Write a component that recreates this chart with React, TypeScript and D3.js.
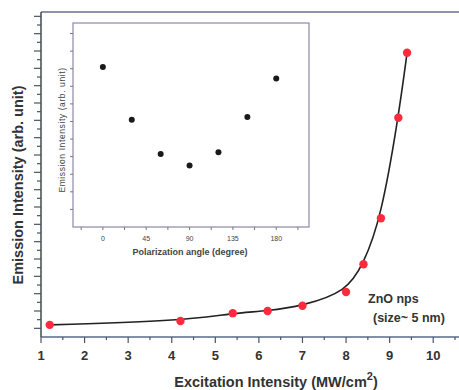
import { useRef, useEffect } from 'react';
import * as d3 from 'd3';

// main plot: excitation intensity vs emission intensity
const excitation = [1.2, 4.2, 5.4, 6.2, 7.0, 8.0, 8.4, 8.8, 9.2, 9.4];
const emission = [1.4, 1.85, 2.75, 3.0, 3.6, 5.2, 8.4, 13.7, 25.3, 32.8];
const xTicks = [1, 2, 3, 4, 5, 6, 7, 8, 9, 10];

// inset: polarization angle vs emission intensity
const angles = [0, 30, 60, 90, 120, 150, 180];
const insetEmission = [9.1, 6.1, 4.15, 3.5, 4.25, 6.25, 8.45];
const angleTicks = [0, 45, 90, 135, 180];

export default function App() {
  const ref = useRef<SVGSVGElement>(null);

  useEffect(() => {
    const svg = d3.select(ref.current);
    svg.selectAll('*').remove();

    const W = 459;
    const font = '"Liberation Sans", Arial, sans-serif';
    const axc = '#4a5566';
    const tc = '#333';

    const x = d3.scaleLinear().domain([1, 10.5]).range([41, 455]);
    const y = d3.scaleLinear().domain([0, 37.5]).range([337, 12]);

    const g = svg.append('g');

    // frame: top + bottom lines run to the edge, left axis line
    g.append('line').attr('x1', 41).attr('x2', W).attr('y1', 12).attr('y2', 12)
      .attr('stroke', '#6a6f8a').attr('stroke-width', 1.3);
    g.append('line').attr('x1', 41).attr('x2', W).attr('y1', 337).attr('y2', 337)
      .attr('stroke', '#5a6a86').attr('stroke-width', 1.3);
    g.append('line').attr('x1', 41).attr('x2', 41).attr('y1', 12).attr('y2', 337)
      .attr('stroke', '#3f4d44').attr('stroke-width', 1.5);

    // y ticks (no labels)
    d3.range(1, 38).forEach(v => {
      g.append('line').attr('x1', v % 2 ? 34 : 37).attr('x2', 41)
        .attr('y1', y(v)).attr('y2', y(v)).attr('stroke', axc).attr('stroke-width', 1.2);
    });

    // x ticks
    d3.range(1, 10.6, 0.5).forEach(v => {
      const major = Number.isInteger(v);
      g.append('line').attr('x1', x(v)).attr('x2', x(v))
        .attr('y1', 337).attr('y2', major ? 343 : 340)
        .attr('stroke', axc).attr('stroke-width', 1.2);
    });
    xTicks.forEach(v => {
      g.append('text').attr('x', x(v)).attr('y', 360).attr('text-anchor', 'middle')
        .attr('fill', tc).style('font', `bold 13px ${font}`).text(v);
    });

    // axis titles
    const xt = g.append('text').attr('x', 276).attr('y', 387).attr('text-anchor', 'middle')
      .attr('fill', tc).style('font', `bold 14.5px ${font}`);
    xt.append('tspan').text('Excitation Intensity (MW/cm');
    xt.append('tspan').attr('dy', -7).style('font-size', '11px').text('2');
    xt.append('tspan').attr('dy', 7).text(')');

    g.append('text').attr('transform', 'translate(23,185) rotate(-90)')
      .attr('text-anchor', 'middle').attr('fill', tc)
      .style('font', `bold 14.5px ${font}`).text('Emission Intensity (arb. unit)');

    // smooth fit curve + points
    const pts = excitation.map((e, i) => [e, emission[i]] as [number, number]);
    const line = d3.line<[number, number]>().x(d => x(d[0])).y(d => y(d[1]))
      .curve(d3.curveBasis);
    g.append('path').attr('d', line(pts)).attr('fill', 'none')
      .attr('stroke', '#222').attr('stroke-width', 1.6);
    g.selectAll('circle.main').data(pts).enter().append('circle')
      .attr('cx', d => x(d[0])).attr('cy', d => y(d[1])).attr('r', 4.2)
      .attr('fill', '#ff2b3d');

    g.append('text').attr('x', 368).attr('y', 303).attr('fill', tc)
      .style('font', `bold 12.5px ${font}`).text('ZnO nps');
    g.append('text').attr('x', 373).attr('y', 322).attr('fill', tc)
      .style('font', `bold 12.5px ${font}`).text('(size~ 5 nm)');

    // inset
    const ix = d3.scaleLinear().domain([-31, 214]).range([73, 309]);
    const iy = d3.scaleLinear().domain([0, 11.6]).range([227, 23]);
    const ig = svg.append('g');
    ig.append('rect').attr('x', 73).attr('y', 23).attr('width', 236).attr('height', 204)
      .attr('fill', '#fff').attr('stroke', '#8c88a8').attr('stroke-width', 1.2);

    d3.range(1, 12).forEach(v => {
      ig.append('line').attr('x1', 70).attr('x2', 73).attr('y1', iy(v)).attr('y2', iy(v))
        .attr('stroke', '#777').attr('stroke-width', 1);
    });
    d3.range(-22.5, 210, 22.5).forEach(v => {
      ig.append('line').attr('x1', ix(v)).attr('x2', ix(v)).attr('y1', 227).attr('y2', 230)
        .attr('stroke', '#777').attr('stroke-width', 1);
    });
    angleTicks.forEach(v => {
      ig.append('text').attr('x', ix(v)).attr('y', 241).attr('text-anchor', 'middle')
        .attr('fill', '#444').style('font', `7px ${font}`).text(v);
    });
    ig.append('text').attr('x', 190).attr('y', 255).attr('text-anchor', 'middle')
      .attr('fill', '#444').style('font', `bold 9px ${font}`).text('Polarization angle (degree)');
    ig.append('text').attr('transform', 'translate(65,130) rotate(-90)')
      .attr('text-anchor', 'middle').attr('fill', '#444')
      .style('font', `8.5px ${font}`).style('letter-spacing', '0.6px')
      .text('Emission Intensity (arb. unit)');

    ig.selectAll('circle.ins').data(angles).enter().append('circle')
      .attr('cx', d => ix(d)).attr('cy', (d, i) => iy(insetEmission[i])).attr('r', 3)
      .attr('fill', '#1a1a1a');
  }, []);

  return (
    <svg ref={ref} width={459} height={390}
      style={{ position: 'absolute', left: 0, top: 0, background: '#fff' }} />
  );
}
